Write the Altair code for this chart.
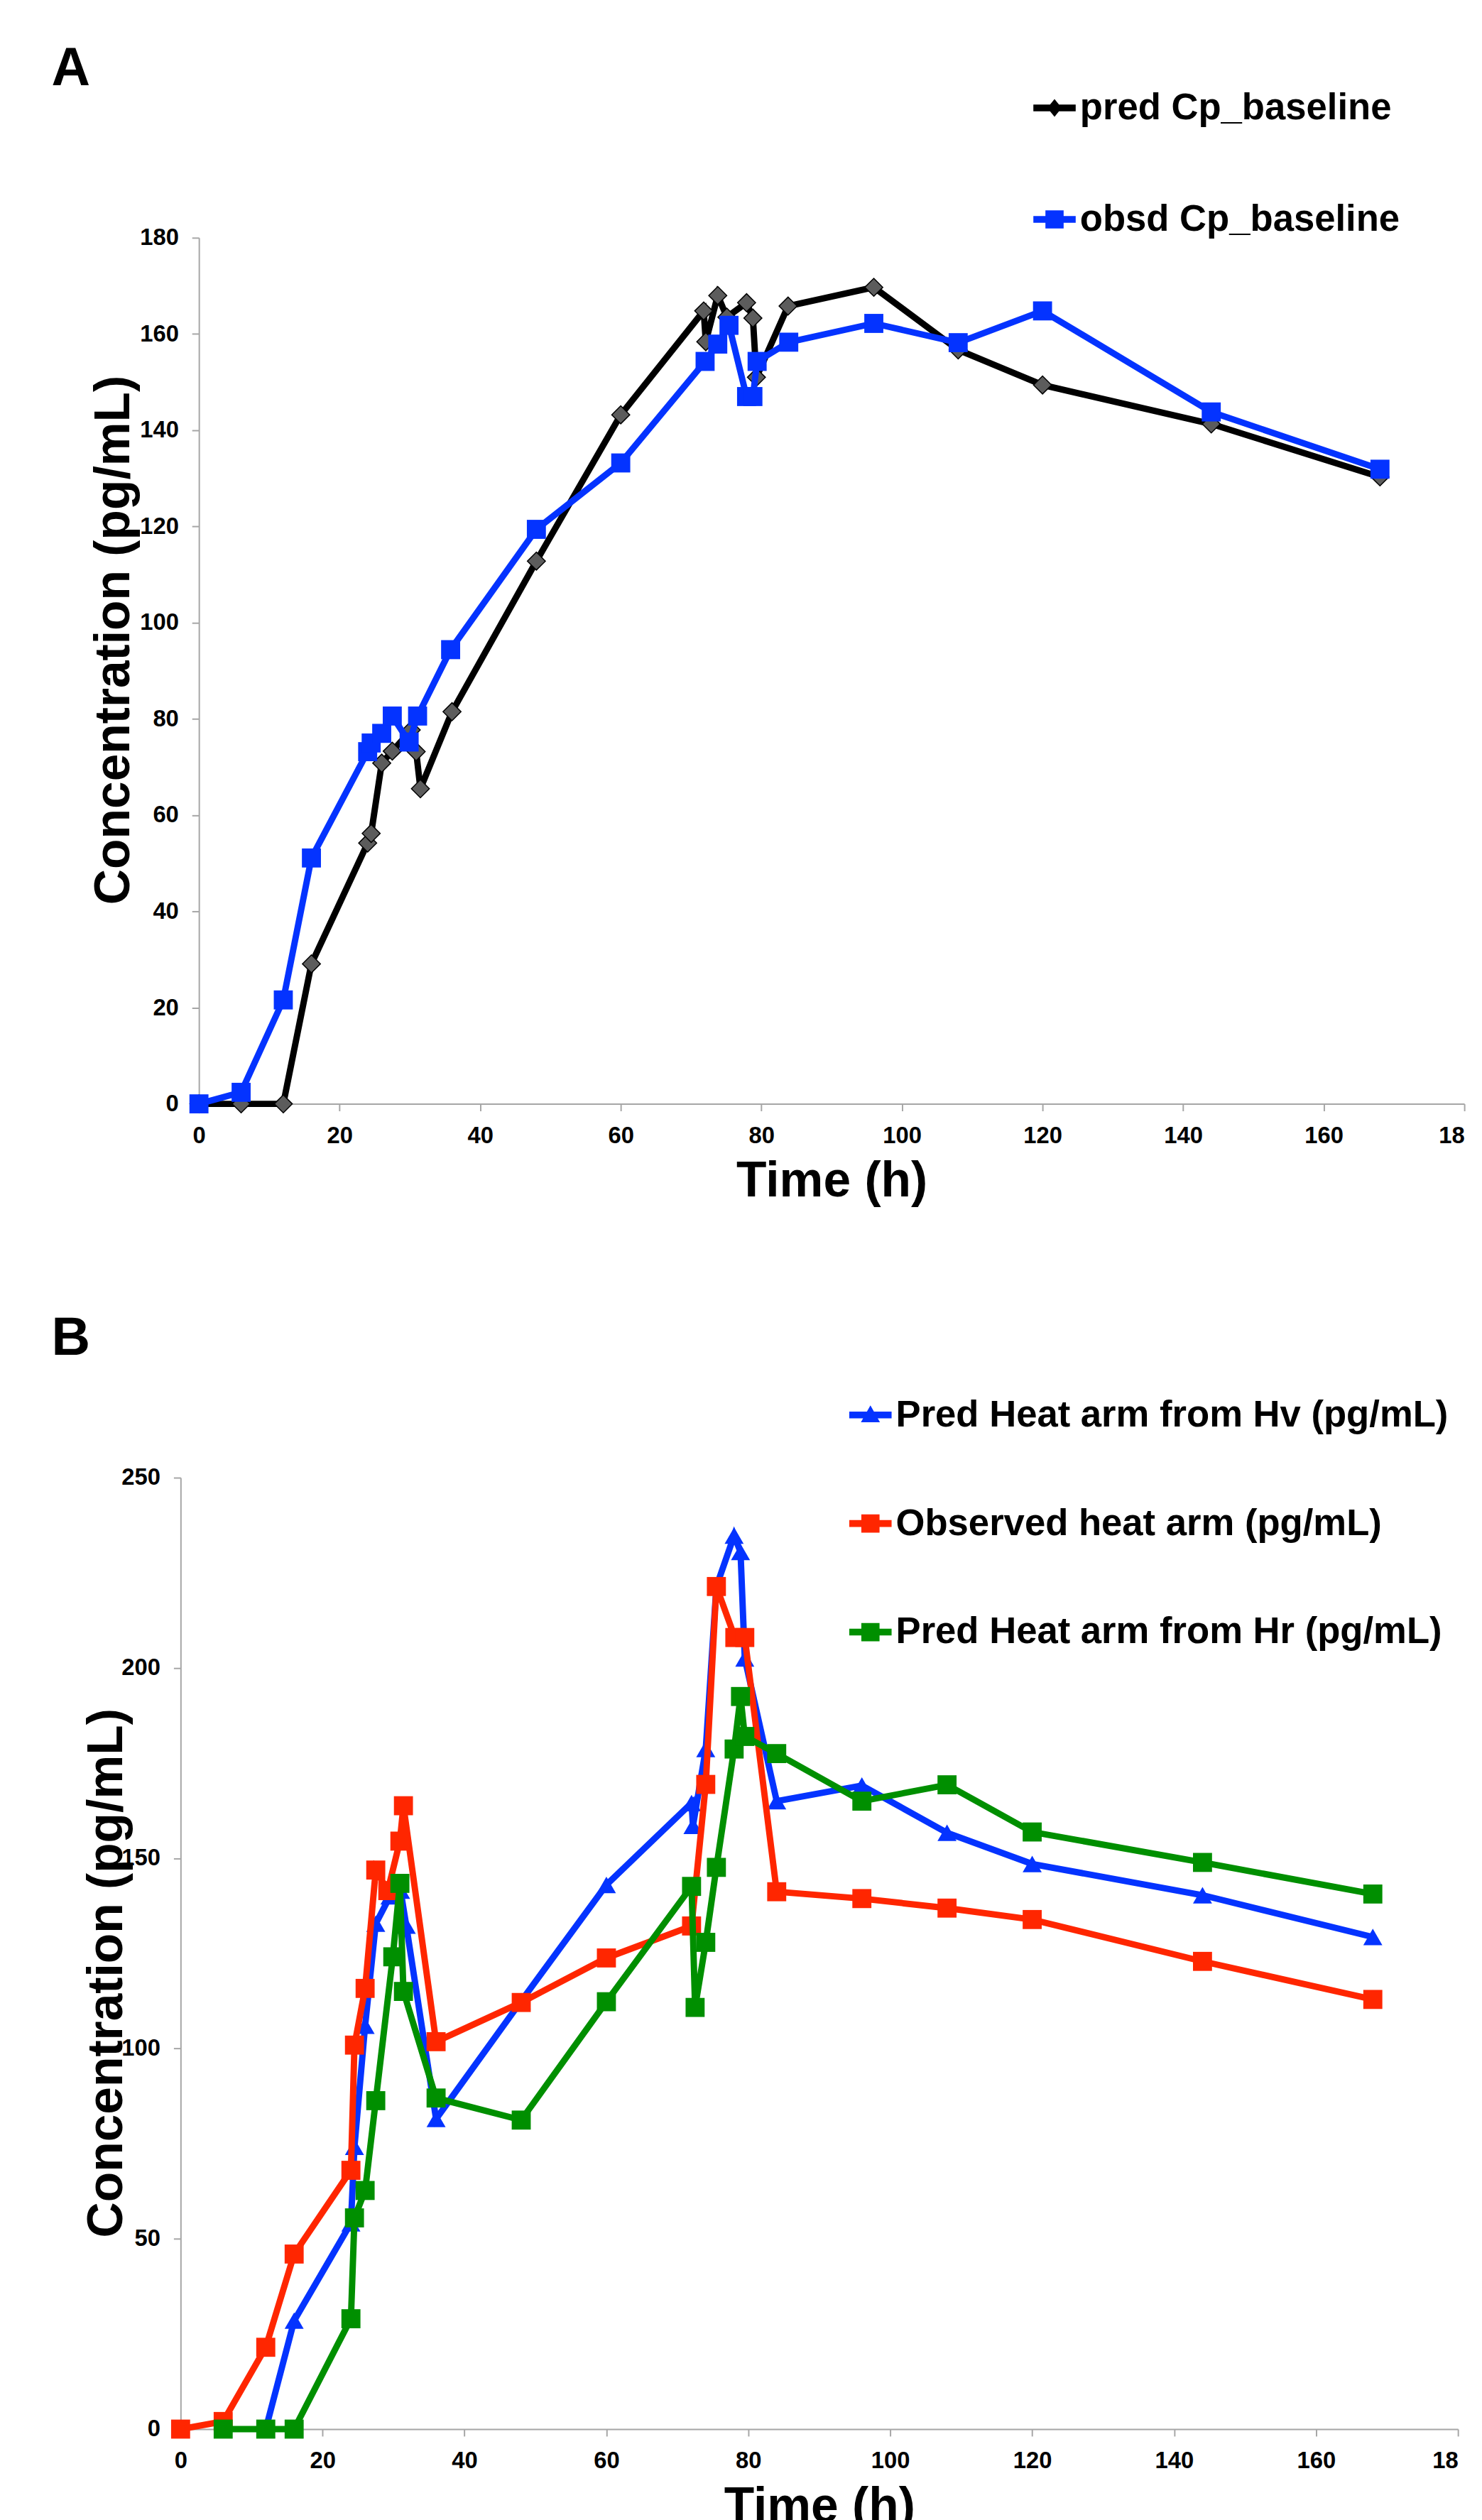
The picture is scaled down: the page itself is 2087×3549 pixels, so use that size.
import altair as alt
import pandas as pd

FONT = "Liberation Sans"

# ---------------- Panel A data ----------------
A_pred_t = [0, 6, 12, 16, 24, 24.5, 26, 27.5, 30.2, 30.9, 31.5, 36, 48, 60, 71.8, 72.1, 73.8, 75.1, 77.9, 78.8, 79.3, 83.8, 96, 108, 120, 144, 168]
A_pred_v = [0, 0, 0, 29.1, 54.2, 56.2, 70.8, 73.3, 77.7, 73.2, 65.5, 81.5, 112.8, 143.2, 164.8, 158.4, 168.0, 163.5, 166.5, 163.3, 151.0, 165.8, 169.7, 156.7, 149.4, 141.3, 130.3]

A_obsd_t = [0, 6, 12, 16, 24, 24.5, 26, 27.5, 29.9, 31.1, 35.8, 48, 60, 72, 73.8, 75.4, 77.9, 78.8, 79.4, 83.9, 96, 108, 120, 144, 168]
A_obsd_v = [0, 2.4, 21.6, 51.1, 73.2, 75.0, 77.0, 80.6, 75.2, 80.6, 94.4, 119.4, 133.2, 154.3, 157.9, 161.8, 147.0, 147.0, 154.3, 158.3, 162.2, 158.2, 164.8, 143.8, 131.9]

A_names = ["pred Cp_baseline", "obsd Cp_baseline"]

# ---------------- Panel B data ----------------
B_hv_t = [12, 16, 24, 24.5, 26, 27.5, 29.5, 31, 31.8, 36, 48, 60, 72, 72.2, 74, 75.5, 78, 78.9, 79.5, 84, 96, 108, 120, 144, 168]
B_hv_v = [0, 28.5, 54.1, 74.2, 106, 132.8, 140, 141.5, 132.3, 81.5, 112.5, 143, 164.5, 158.5, 178.7, 221.4, 234.8, 230.5, 202.5, 165, 169.1, 156.7, 148.5, 140.3, 129.3]

B_obs_t = [0, 6, 12, 16, 24, 24.5, 26, 27.5, 29.2, 30.9, 31.4, 36, 48, 60, 72, 74, 75.5, 78.1, 79.5, 84, 96, 108, 120, 144, 168]
B_obs_v = [0, 2, 21.5, 46, 68, 100.9, 115.8, 146.9, 141.5, 154.5, 163.8, 101.8, 112.1, 123.8, 132.2, 169.4, 221.4, 208, 208, 141.2, 139.4, 136.9, 133.9, 122.9, 112.9]

B_hr_t = [6, 12, 16, 24, 24.5, 26, 27.5, 29.9, 30.9, 31.4, 36, 48, 60, 72, 72.5, 74, 75.5, 78, 78.9, 79.5, 84, 96, 108, 120, 144, 168]
B_hr_v = [0, 0, 0, 29, 55.5, 62.7, 86.3, 124.1, 143.4, 115, 87, 81.2, 112.3, 142.6, 110.8, 127.9, 147.6, 178.7, 192.5, 182, 177.5, 165, 169.3, 156.9, 148.9, 140.6]

B_names = ["Pred Heat arm from Hv (pg/mL)", "Observed heat arm (pg/mL)", "Pred Heat arm from Hr (pg/mL)"]

x_ticks = [0, 20, 40, 60, 80, 100, 120, 140, 160, 180]
yA_ticks = [0, 20, 40, 60, 80, 100, 120, 140, 160, 180]
yB_ticks = [0, 50, 100, 150, 200, 250]

BLUE = "#0433FF"
RED = "#FF2600"
GREEN = "#008F00"

# legend symbol paths: a bar with a marker in the middle
BAR = "M-1,-0.16H1V0.16H-1Z"
P_DIAMOND = BAR + " M0,-0.42L0.34,0L0,0.42L-0.34,0Z"
P_SQUARE = BAR + " M-0.43,-0.43H0.43V0.43H-0.43Z"
P_TRIANGLE = BAR + " M0,-0.45L0.45,0.35H-0.45Z"


def df(t, v):
    return pd.DataFrame({"t": t, "v": v})


def enc(ymax, yticks, title_y, title_pad, x_range=None, y_axis_offset=0):
    xscale = alt.Scale(domain=[0, 180], nice=False)
    if x_range is not None:
        xscale = alt.Scale(domain=[0, 180], nice=False, range=x_range)
    x = alt.X("t:Q", scale=xscale,
              axis=alt.Axis(values=x_ticks, title="Time (h)",
                            labelExpr="datum.value == 180 ? '18' : datum.label",
                            labelAlign={"condition": {"test": "datum.value == 180", "value": "right"},
                                        "value": "center"}))
    y = alt.Y("v:Q", scale=alt.Scale(domain=[0, ymax], nice=False),
              axis=alt.Axis(values=yticks, title="Concentration (pg/mL)",
                            titlePadding=title_pad, titleY=title_y, offset=y_axis_offset))
    return x, y


def legend_layer(names, colors, shapes, lx, ly, rowpad):
    leg = alt.Legend(title=None, orient="none", legendX=lx, legendY=ly,
                     direction="vertical", symbolSize=3600, symbolStrokeWidth=0,
                     labelFont=FONT, labelFontSize=53, labelFontWeight="bold",
                     labelColor="black", labelLimit=2000, rowPadding=rowpad,
                     labelOffset=6, padding=0, symbolOpacity=1)
    return alt.Chart(pd.DataFrame({"series": names})).mark_point(
        filled=True, opacity=1).encode(
        color=alt.Color("series:N", scale=alt.Scale(domain=names, range=colors), legend=leg),
        shape=alt.Shape("series:N", scale=alt.Scale(domain=names, range=shapes), legend=leg),
    ).transform_filter("false")


# ---------------- Panel A ----------------
xA, yA = enc(180, yA_ticks, 570, 0)
a_pred = df(A_pred_t, A_pred_v)
a_obsd = df(A_obsd_t, A_obsd_v)
panelA = alt.layer(
    alt.Chart(a_pred).mark_line(color="black", strokeWidth=9).encode(x=xA, y=yA),
    alt.Chart(a_pred).mark_point(shape="diamond", filled=True, fill="#5c5c5c", stroke="black",
                                 strokeWidth=1.5, size=650, opacity=1).encode(x=xA, y=yA),
    alt.Chart(a_obsd).mark_line(color=BLUE, strokeWidth=9).encode(x=xA, y=yA),
    alt.Chart(a_obsd).mark_point(shape="square", filled=True, color=BLUE,
                                 size=729, opacity=1).encode(x=xA, y=yA),
    legend_layer(A_names, ["black", BLUE], [P_DIAMOND, P_SQUARE], 1183, -214, 101),
).properties(
    width=1794, height=1228,
    title=alt.TitleParams("A", anchor="start", frame="group", dx=-209, offset=-14,
                          fontSize=76, font=FONT, fontWeight="bold", color="black"),
)

# ---------------- Panel B ----------------
# panel B's axes sit 26 px further left than panel A's
xB, yB = enc(250, yB_ticks, 702, -16, x_range=[-26, 1785], y_axis_offset=26)
b_hv = df(B_hv_t, B_hv_v)
b_obs = df(B_obs_t, B_obs_v)
b_hr = df(B_hr_t, B_hr_v)
panelB = alt.layer(
    alt.Chart(b_hv).mark_line(color=BLUE, strokeWidth=9).encode(x=xB, y=yB),
    alt.Chart(b_hv).mark_point(shape="triangle-up", filled=True, color=BLUE,
                               size=729, opacity=1).encode(x=xB, y=yB),
    alt.Chart(b_obs).mark_line(color=RED, strokeWidth=9).encode(x=xB, y=yB),
    alt.Chart(b_obs).mark_point(shape="square", filled=True, color=RED,
                                size=729, opacity=1).encode(x=xB, y=yB),
    alt.Chart(b_hr).mark_line(color=GREEN, strokeWidth=9).encode(x=xB, y=yB),
    alt.Chart(b_hr).mark_point(shape="square", filled=True, color=GREEN,
                               size=729, opacity=1).encode(x=xB, y=yB),
    legend_layer(B_names, [BLUE, RED, GREEN], [P_TRIANGLE, P_SQUARE, P_SQUARE], 922, -119, 97),
).properties(
    width=1785, height=1349,
    title=alt.TitleParams("B", anchor="start", frame="group", dx=-209, offset=39,
                          fontSize=76, font=FONT, fontWeight="bold", color="black"),
)

chart = alt.vconcat(panelA, panelB, spacing=150).resolve_scale(
    color="independent", shape="independent"
).resolve_legend(color="independent", shape="independent").properties(
    padding={"left": 65, "top": 40, "right": 0, "bottom": 0},
    background="white",
).configure_view(stroke=None).configure_axis(
    grid=False,
    domainColor="#A6A6A6", domainWidth=2,
    tickColor="#A6A6A6", tickWidth=2, tickSize=10,
    labelFont=FONT, labelFontSize=33, labelFontWeight="bold", labelColor="black",
    labelPadding=19,
    titleFont=FONT, titleFontSize=70, titleFontWeight="bold", titleColor="black",
).configure_axisX(titlePadding=14)

chart.save("out.html", embed_options={"renderer": "svg", "actions": False})
